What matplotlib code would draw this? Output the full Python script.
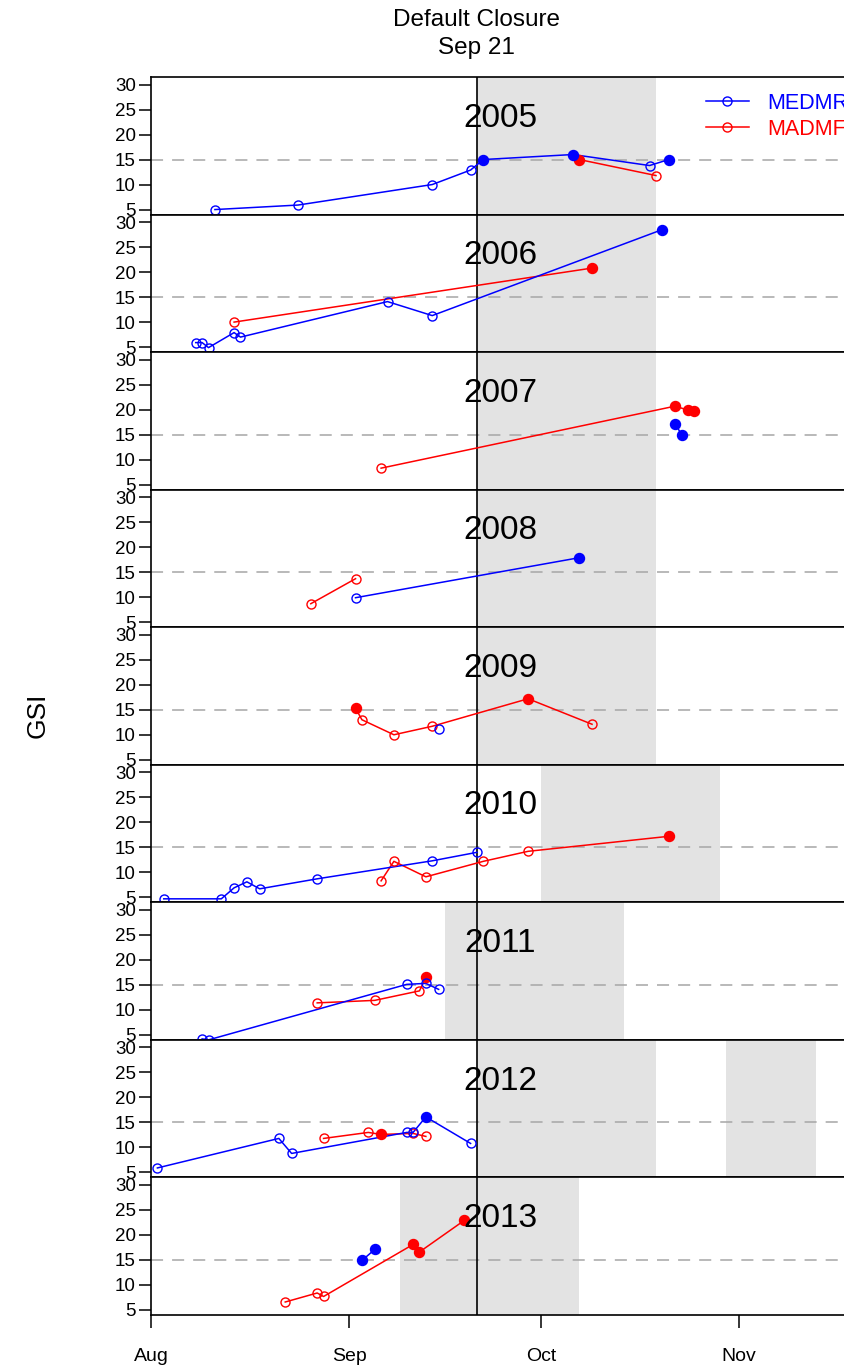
import matplotlib
matplotlib.use("Agg")
import matplotlib.pyplot as plt
import matplotlib.dates as mdates
from matplotlib.lines import Line2D
import pandas as pd

plt.rcParams['font.family'] = ['Liberation Sans', 'DejaVu Sans']

REF_YEAR = 2001
years = [2005, 2006, 2007, 2008, 2009, 2010, 2011, 2012, 2013]
closure_date = "09-21"
threshold = 15
yticks = [5, 10, 15, 20, 25, 30]
month_ticks = ["08-01", "09-01", "10-01", "11-01"]
month_labels = ["Aug", "Sep", "Oct", "Nov"]

# MEDMR (blue) series: dates (MM-DD), GSI, filled marker flag
medmr_dates = {
    2005: ["08-11", "08-24", "09-14", "09-20", "09-22", "10-06", "10-18", "10-21"],
    2006: ["08-08", "08-09", "08-10", "08-14", "08-15", "09-07", "09-14", "10-20"],
    2007: ["10-22", "10-23"],
    2008: ["09-02", "10-07"],
    2009: ["09-15"],
    2010: ["08-03", "08-12", "08-14", "08-16", "08-18", "08-27", "09-14", "09-21"],
    2011: ["08-09", "08-10", "09-10", "09-13", "09-15"],
    2012: ["08-02", "08-21", "08-23", "09-10", "09-11", "09-13", "09-20"],
    2013: ["09-03", "09-05"],
}
medmr_gsi = {
    2005: [5.0, 5.9, 10.0, 12.9, 15.0, 16.0, 13.8, 15.0],
    2006: [5.9, 5.9, 4.9, 7.9, 7.0, 14.1, 11.3, 28.5],
    2007: [17.2, 15.0],
    2008: [9.9, 17.9],
    2009: [11.1],
    2010: [4.7, 4.7, 6.9, 8.1, 6.7, 8.7, 12.3, 14.0],
    2011: [4.2, 4.0, 15.1, 15.3, 14.1],
    2012: [5.9, 11.8, 8.8, 13.0, 13.0, 16.1, 10.8],
    2013: [14.9, 17.1],
}
medmr_filled = {
    2005: [0, 0, 0, 0, 1, 1, 0, 1],
    2006: [0, 0, 0, 0, 0, 0, 0, 1],
    2007: [1, 1],
    2008: [0, 1],
    2009: [0],
    2010: [0, 0, 0, 0, 0, 0, 0, 0],
    2011: [0, 0, 0, 0, 0],
    2012: [0, 0, 0, 0, 0, 1, 0],
    2013: [1, 1],
}

# MADMF (red) series
madmf_dates = {
    2005: ["10-07", "10-19"],
    2006: ["08-14", "10-09"],
    2007: ["09-06", "10-22", "10-24", "10-25"],
    2008: ["08-26", "09-02"],
    2009: ["09-02", "09-03", "09-08", "09-14", "09-29", "10-09"],
    2010: ["09-06", "09-08", "09-13", "09-22", "09-29", "10-21"],
    2011: ["08-27", "09-05", "09-12", "09-13"],
    2012: ["08-28", "09-04", "09-06", "09-11", "09-13"],
    2013: ["08-22", "08-27", "08-28", "09-11", "09-12", "09-19"],
}
madmf_gsi = {
    2005: [15.0, 11.8],
    2006: [10.0, 20.8],
    2007: [8.3, 20.7, 19.9, 19.7],
    2008: [8.7, 13.7],
    2009: [15.3, 13.0, 10.0, 11.7, 17.2, 12.1],
    2010: [8.3, 12.2, 9.1, 12.2, 14.2, 17.2],
    2011: [11.4, 11.9, 13.8, 16.5],
    2012: [11.8, 13.0, 12.6, 12.8, 12.2],
    2013: [6.6, 8.4, 7.7, 18.1, 16.6, 22.9],
}
madmf_filled = {
    2005: [1, 0],
    2006: [0, 1],
    2007: [0, 1, 1, 1],
    2008: [0, 0],
    2009: [1, 0, 0, 0, 1, 0],
    2010: [0, 0, 0, 0, 0, 1],
    2011: [0, 0, 0, 1],
    2012: [0, 0, 1, 0, 0],
    2013: [0, 0, 0, 1, 1, 1],
}

# closure shading periods (start, end)
shade_periods = {
    2005: [("09-21", "10-19")],
    2006: [("09-21", "10-19")],
    2007: [("09-21", "10-19")],
    2008: [("09-21", "10-19")],
    2009: [("09-21", "10-19")],
    2010: [("10-01", "10-29")],
    2011: [("09-16", "10-14")],
    2012: [("09-21", "10-19"), ("10-30", "11-13")],
    2013: [("09-09", "10-07")],
}


def d(s):
    return pd.Timestamp(f"{REF_YEAR}-{s}")


BLUE = "#0000FF"
RED = "#FF0000"
SHADE = "#E3E3E3"

W, H = 844, 1369
fig = plt.figure(figsize=(W / 100, H / 100), dpi=100)

left = 151 / W
width = 698 / W
top_px, bot_px = 77, 1315
ph = (bot_px - top_px) / 9 / H
bottom0 = 1 - bot_px / H

x0 = d("08-01")
x1 = x0 + pd.Timedelta(days=109.2)


def draw_series(ax, dates, gsi, filled, color):
    xs = [d(s) for s in dates]
    ax.plot(xs, gsi, '-', color=color, lw=1.1, zorder=3, clip_on=False)
    xo = [x for x, f in zip(xs, filled) if not f]
    yo = [y for y, f in zip(gsi, filled) if not f]
    xf = [x for x, f in zip(xs, filled) if f]
    yf = [y for y, f in zip(gsi, filled) if f]
    ax.plot(xo, yo, 'o', ls='none', mfc='none', mec=color, mew=1.0, ms=6.5,
            zorder=4, clip_on=False)
    ax.plot(xf, yf, 'o', ls='none', color=color, ms=7.2, zorder=4, clip_on=False)


axes = []
for i, yr in enumerate(years):
    b = bottom0 + (8 - i) * ph
    ax = fig.add_axes([left, b, width, ph])
    axes.append(ax)
    ax.set_xlim(x0, x1)
    ax.set_ylim(4.0, 31.5)
    for s, e in shade_periods[yr]:
        ax.axvspan(d(s), d(e), color=SHADE, lw=0, zorder=0)
    ax.axhline(threshold, color="#A6A6A6", lw=1.1, ls=(0, (7.9, 5.9)), zorder=1)
    ax.axvline(d(closure_date), color="black", lw=1.2, zorder=2)
    draw_series(ax, madmf_dates[yr], madmf_gsi[yr], madmf_filled[yr], RED)
    draw_series(ax, medmr_dates[yr], medmr_gsi[yr], medmr_filled[yr], BLUE)
    ax.text(0.5, 0.639, str(yr), transform=ax.transAxes, ha='center',
            va='baseline', fontsize=24, zorder=5)
    ax.set_yticks(yticks)
    ax.tick_params(axis='y', length=9, width=1.1, pad=2, labelsize=13.5)
    for sp in ax.spines.values():
        sp.set_linewidth(1.2)
    if yr == years[-1]:
        ax.set_xticks([d(s) for s in month_ticks])
        ax.set_xticklabels(month_labels)
        ax.tick_params(axis='x', length=9, width=1.1, pad=15, labelsize=14)
    else:
        ax.set_xticks([])

# legend in first panel
handles = [
    Line2D([], [], color=BLUE, lw=1.1, marker='o', mfc='none', mec=BLUE, ms=6.5),
    Line2D([], [], color=RED, lw=1.1, marker='o', mfc='none', mec=RED, ms=6.5),
]
leg = axes[0].legend(handles, ["MEDMR", "MADMF"], loc='upper left',
                     bbox_to_anchor=(0.795, 0.885), frameon=False, fontsize=15.5,
                     handlelength=2.0, handletextpad=0.85, labelspacing=0.22,
                     borderpad=0, borderaxespad=0)
for t, c in zip(leg.get_texts(), [BLUE, RED]):
    t.set_color(c)

fig.text(476 / W, 1 - 20 / H, "Default Closure", ha='center', va='center', fontsize=17.5)
fig.text(476 / W, 1 - 48 / H, "Sep 21", ha='center', va='center', fontsize=17.5)
fig.text(38 / W, 1 - 715 / H, "GSI", ha='center', va='center', rotation=90, fontsize=19)

fig.savefig("out.png", dpi=100)
